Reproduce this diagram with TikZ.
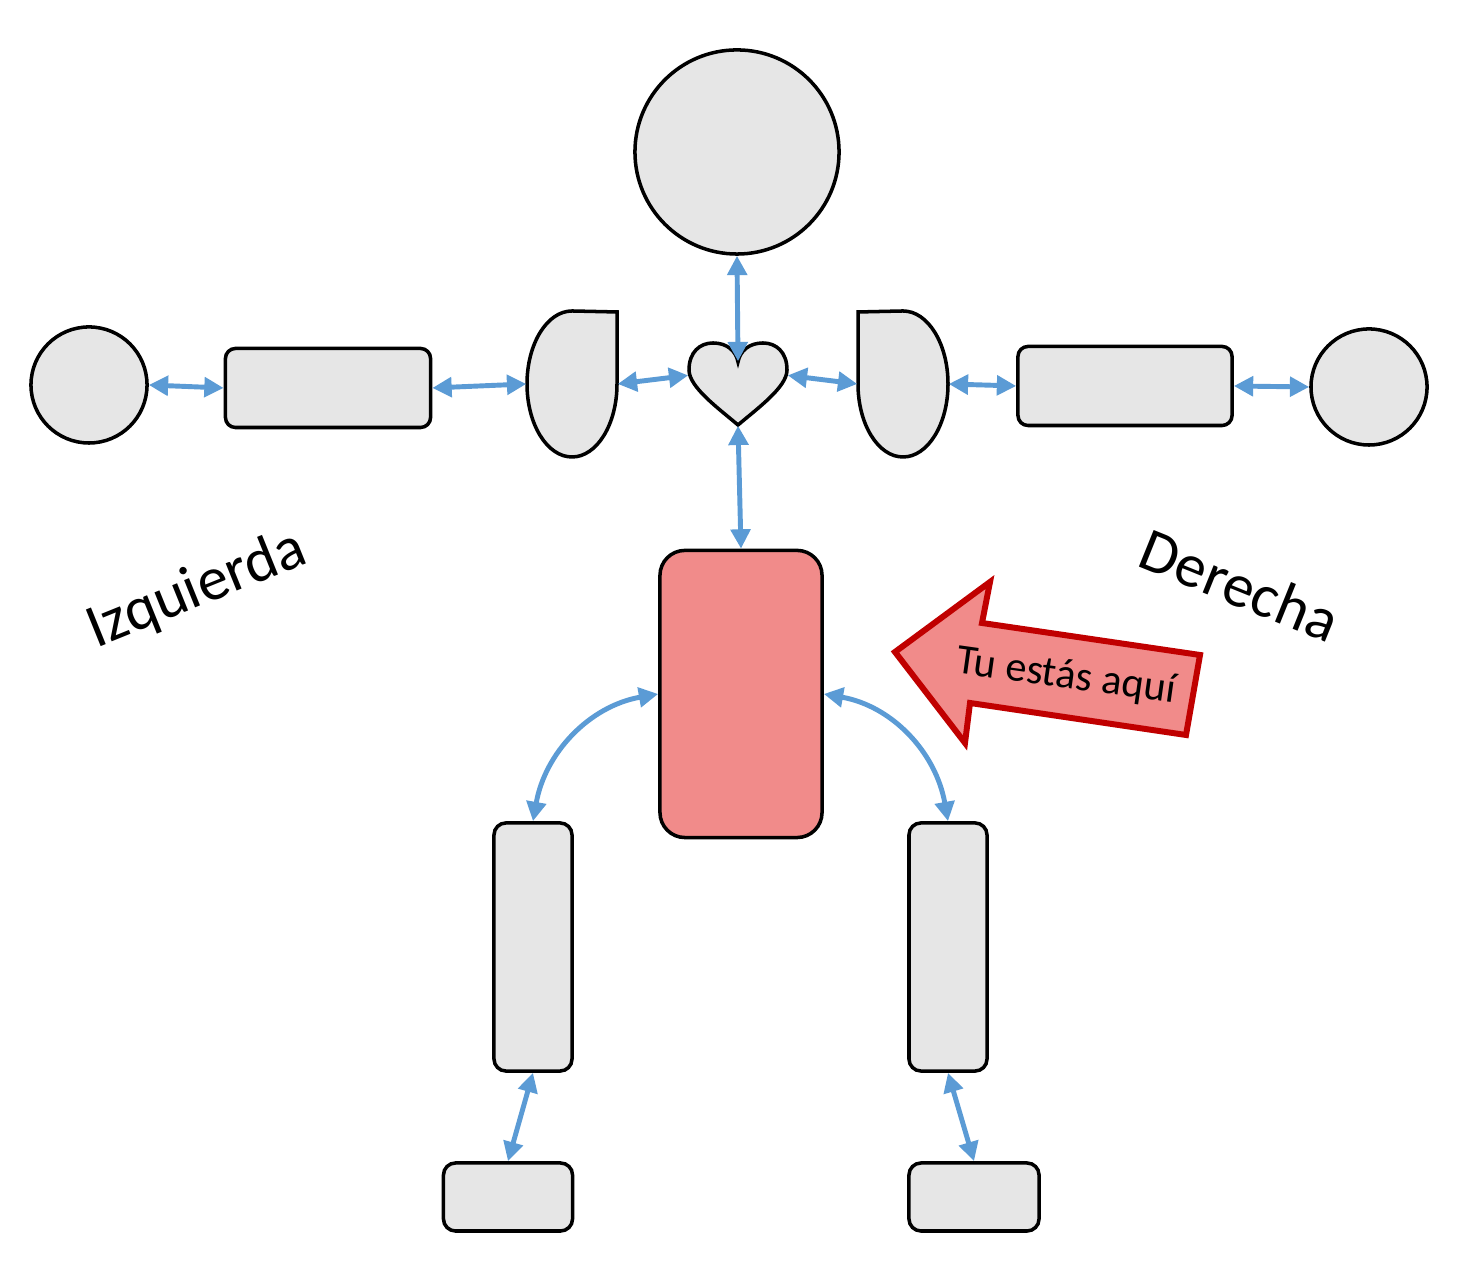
\documentclass[tikz,border=0pt]{standalone}
\usepackage{fontspec}
\setmainfont{Carlito}
\usetikzlibrary{arrows.meta}
\definecolor{partgray}{HTML}{E6E6E6}
\definecolor{linkblue}{HTML}{5B9BD5}
\definecolor{bodyred}{HTML}{F18B8A}
\definecolor{darkred}{HTML}{C00000}
\begin{document}
\begin{tikzpicture}[x=0.01cm,y=0.01cm,
    part/.style={draw=black, line width=1pt, fill=partgray},
    box/.style={part, rectangle, rounded corners=0.1cm, inner sep=0pt},
    ball/.style={part, circle, inner sep=0pt},
    hitbox/.style={rectangle, inner sep=0pt, draw=none},
    joint/.style={linkblue, line width=1.4pt,
        {Triangle[length=5.5pt,width=5.5pt]}-{Triangle[length=5.5pt,width=5.5pt]}}]
\useasboundingbox (0,0) rectangle (1476,1280);

% Head and hands
\node[ball, minimum size=2.04cm] (head) at (737,1128) {};
\node[ball, minimum size=1.16cm] (lhand) at (89,895) {};
\node[ball, minimum size=1.16cm] (rhand) at (1369,893) {};

% Forearms
\node[box, minimum width=2.05cm, minimum height=0.79cm] (larm) at (328,892) {};
\node[box, minimum width=2.14cm, minimum height=0.79cm] (rarm) at (1125,894) {};

% Shoulders (flat side towards the heart)
\draw[part] (617,968) -- (572,969)
    arc[start angle=90, end angle=270, x radius=45, y radius=73]
    arc[start angle=270, end angle=360, x radius=45, y radius=73] -- cycle;
\draw[part] (858,968) -- (903,969)
    arc[start angle=90, end angle=-90, x radius=45, y radius=73]
    arc[start angle=270, end angle=180, x radius=45, y radius=73] -- cycle;
\node[hitbox, minimum width=0.9cm, minimum height=1.46cm] (lsho) at (572,896) {};
\node[hitbox, minimum width=0.9cm, minimum height=1.46cm] (rsho) at (903,896) {};

% Heart
\draw[part] (738,855) .. controls (718,872) and (689,893) .. (689,910)
    .. controls (689,928) and (700,937) .. (713,937)
    .. controls (727,937) and (736,929) .. (738,918)
    .. controls (740,929) and (749,937) .. (763,937)
    .. controls (776,937) and (787,928) .. (787,910)
    .. controls (787,893) and (758,872) .. (738,855) -- cycle;
\node[hitbox, minimum width=0.98cm, minimum height=0.63cm] (heart) at (738,886.5) {};

% Body, legs and feet
\node[part, fill=bodyred, rectangle, rounded corners=0.25cm, inner sep=0pt,
    minimum width=1.62cm, minimum height=2.87cm] (body) at (741,586) {};
\node[box, rounded corners=0.12cm, minimum width=0.78cm, minimum height=2.48cm] (lleg) at (533,333) {};
\node[box, rounded corners=0.12cm, minimum width=0.78cm, minimum height=2.48cm] (rleg) at (948,333) {};
\node[box, rounded corners=0.12cm, minimum width=1.29cm, minimum height=0.68cm] (lfoot) at (508,83) {};
\node[box, rounded corners=0.12cm, minimum width=1.30cm, minimum height=0.68cm] (rfoot) at (974,83) {};

% Joints
\draw[joint] (lhand.east) -- (larm.west);
\draw[joint] (larm.east) -- (lsho.west);
\draw[joint] (lsho.east) -- (heart.160);
\draw[joint] (heart.20) -- (rsho.west);
\draw[joint] (rsho.east) -- (rarm.west);
\draw[joint] (rarm.east) -- (rhand.west);
\draw[joint] (head.south) -- (heart.north);
\draw[joint] (heart.south) -- (body.north);
\draw[joint] (body.west) to[out=190, in=80] (lleg.north);
\draw[joint] (body.east) to[out=-10, in=100] (rleg.north);
\draw[joint] (lleg.south) -- (lfoot.north);
\draw[joint] (rleg.south) -- (rfoot.north);

% You are here
\draw[fill=bodyred, draw=darkred, line width=1.7pt]
    (895,628) -- (990,698) -- (982,657) -- (1200,625) -- (1186,545)
    -- (970,577) -- (965,537) -- cycle;
\node[rotate=-8, font=\fontsize{12}{14}\selectfont] (here) at (1066,603) {Tu estás aquí};

% Sides
\node[rotate=22, font=\fontsize{17.5}{21}\selectfont] (left) at (197,690) {Izquierda};
\node[rotate=-22, font=\fontsize{17.5}{21}\selectfont] (right) at (1240,695) {Derecha};
\end{tikzpicture}
\end{document}
